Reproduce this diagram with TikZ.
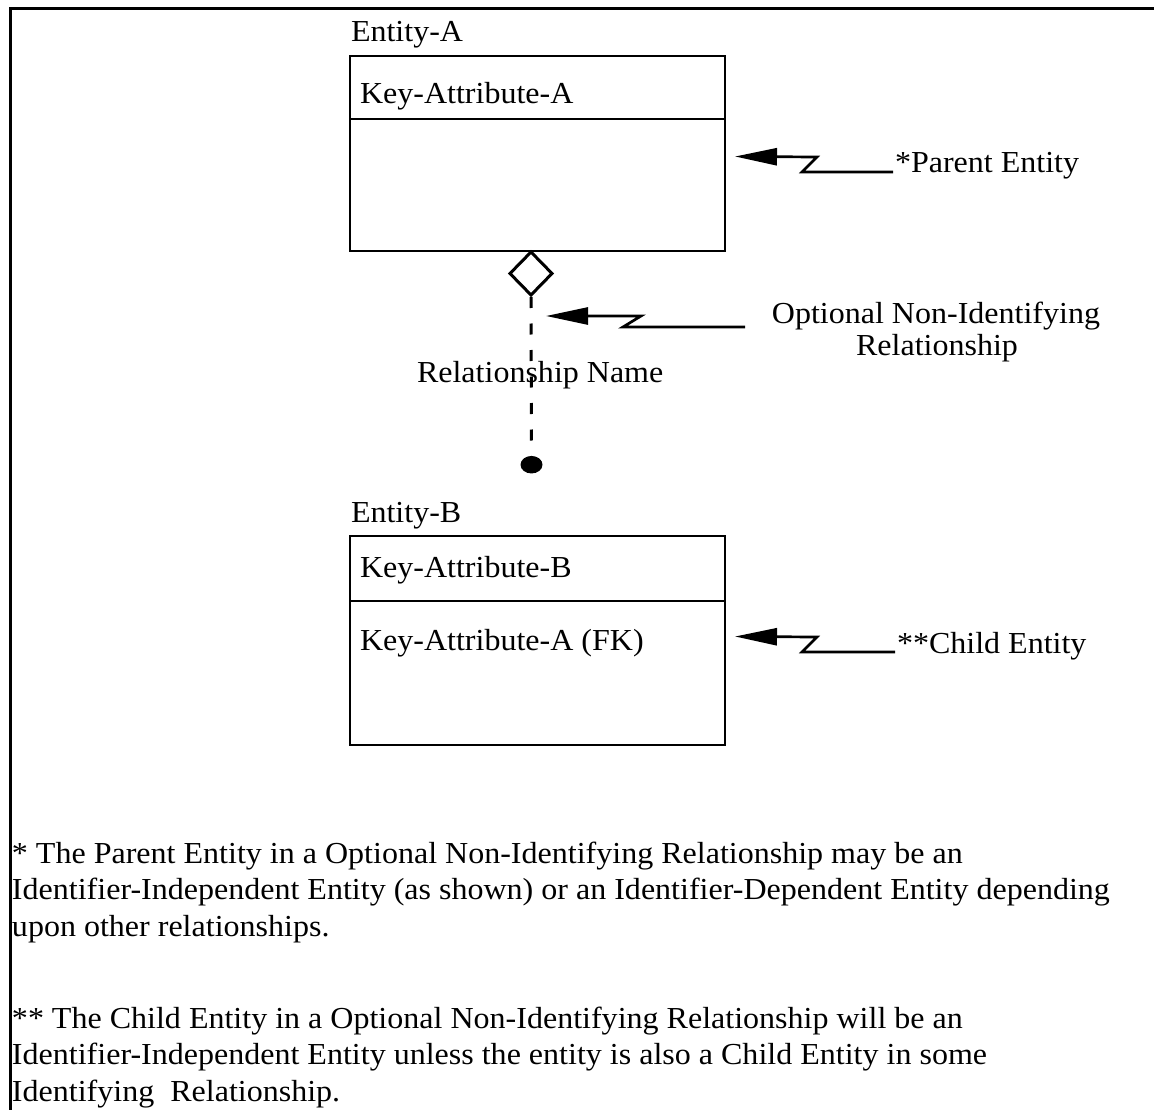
\documentclass[tikz,border=0pt]{standalone}
\usepackage{fontspec}
\setmainfont{Liberation Serif}[FakeStretch=1.05]
\usetikzlibrary{arrows.meta,shapes.geometric}
\begin{document}
\begin{tikzpicture}[x=1pt,y=-1pt,
  every node/.style={inner sep=0pt, outer sep=0pt, font=\fontsize{30.5}{36}\selectfont},
  txt/.style={anchor=base west},
  ctxt/.style={anchor=base},
  entbox/.style={draw, line width=2.8pt, anchor=north west, minimum width=375pt},
  divider/.style={line width=2.8pt},
  frame/.style={line width=3pt},
  pointer/.style={line width=2.7pt, -{Triangle[length=42pt,width=17pt]}},
  reldash/.style={line width=3pt, dash pattern=on 11pt off 15.5pt},
  optmark/.style={draw, diamond, line width=3pt, minimum width=42pt, minimum height=43pt},
  manymark/.style={fill, ellipse, minimum width=22pt, minimum height=17.5pt}
]
\useasboundingbox (0,0) rectangle (1154,1110);

% outer frame (top and left edges)
\draw[frame] (1154,8.5) -- (10,8.5) -- (10,1110);

% parent entity
\node[txt] (labA) at (351,42) {Entity-A};
\node[entbox, minimum height=195pt] (entA) at (350,56) {};
\draw[divider] (entA.west |- 0,119) -- (entA.east |- 0,119);
\node[txt] (keyA) at (360,104) {Key-Attribute-A};

% child entity
\node[txt] (labB) at (351,522) {Entity-B};
\node[entbox, minimum height=209pt] (entB) at (350,536) {};
\draw[divider] (entB.west |- 0,601) -- (entB.east |- 0,601);
\node[txt] (keyB) at (360,577) {Key-Attribute-B};
\node[txt] (fkA) at (360,650) {Key-Attribute-A (FK)};

% relationship: diamond at parent, dashed line, dot at child
\node[optmark] (dia) at (531,273.5) {};
\node[manymark] (dot) at (531.5,464.7) {};
\draw[reldash, shorten <=2pt] (dia.south) -- (dot.north);
\node[txt] (relname) at (417,382) {Relationship Name};

% callouts
\node[txt] (parent) at (895,173) {*Parent Entity};
\coordinate (tipA) at (735,156.5);
\draw[pointer] ([xshift=-2pt,yshift=1pt]parent.base west) -- ++(-91,0) -- ++(15,-15) -- (tipA);

\node[ctxt] (opt1) at (936,323) {Optional Non-Identifying};
\node[ctxt] (opt2) at (937,355) {Relationship};
\coordinate (optstart) at (745,327);
\coordinate (tipR) at (546,316);
\draw[pointer] (optstart) -- ++(-122,0) -- ++(18,-11) -- (tipR);

\node[txt] (child) at (897,653) {**Child Entity};
\coordinate (tipB) at (735,636.5);
\draw[pointer] ([xshift=-2pt,yshift=1pt]child.base west) -- ++(-93,0) -- ++(15,-15) -- (tipB);

% footnotes
\node[txt] (n1a) at (12,863) {* The Parent Entity in a Optional Non-Identifying Relationship may be an};
\node[txt] (n1b) at (12,899.5) {Identifier-Independent Entity (as shown) or an Identifier-Dependent Entity depending};
\node[txt] (n1c) at (12,936) {upon other relationships.};
\node[txt] (n2a) at (12,1028) {** The Child Entity in a Optional Non-Identifying Relationship will be an};
\node[txt] (n2b) at (12,1064.5) {Identifier-Independent Entity unless the entity is also a Child Entity in some};
\node[txt] (n2c) at (12,1101) {Identifying\ \ Relationship.};
\end{tikzpicture}
\end{document}
